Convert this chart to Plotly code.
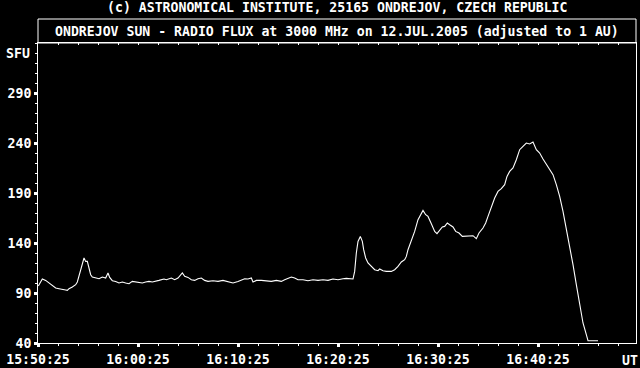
import plotly.graph_objects as go

DATE = "2005-07-12"

times = [
    "15:50:27", "15:50:51", "15:51:11", "15:51:31", "15:51:51", "15:52:11", "15:52:31", "15:52:51",
    "15:53:11", "15:53:21", "15:53:31", "15:53:51", "15:54:11", "15:54:21", "15:54:31", "15:54:41",
    "15:54:51", "15:55:01", "15:55:11", "15:55:21", "15:55:31", "15:55:41", "15:55:51", "15:56:11",
    "15:56:31", "15:56:51", "15:57:11", "15:57:25", "15:57:35", "15:57:51", "15:58:11", "15:58:31",
    "15:58:51", "15:59:11", "15:59:31", "15:59:51", "16:00:11", "16:00:31", "16:00:51", "16:01:11",
    "16:01:31", "16:01:51", "16:02:11", "16:02:31", "16:03:01", "16:03:15", "16:03:45", "16:04:05",
    "16:04:25", "16:04:51", "16:05:05", "16:05:25", "16:05:45", "16:06:05", "16:06:25", "16:06:45",
    "16:07:05", "16:07:25", "16:07:55", "16:08:25", "16:08:55", "16:09:25", "16:09:55", "16:10:25",
    "16:10:45", "16:11:05", "16:11:25", "16:11:45", "16:11:55", "16:12:15", "16:12:45", "16:13:15",
    "16:13:45", "16:14:15", "16:14:45", "16:15:05", "16:15:25", "16:15:45", "16:16:05", "16:16:25",
    "16:16:55", "16:17:25", "16:17:55", "16:18:25", "16:18:55", "16:19:25", "16:19:55", "16:20:25",
    "16:20:55", "16:21:15", "16:21:55", "16:22:05", "16:22:15", "16:22:25", "16:22:39", "16:22:51",
    "16:22:59", "16:23:11", "16:23:25", "16:23:45", "16:24:05", "16:24:25", "16:24:35", "16:24:55",
    "16:25:15", "16:25:45", "16:26:05", "16:26:25", "16:26:45", "16:27:05", "16:27:15", "16:27:25",
    "16:27:45", "16:28:05", "16:28:25", "16:28:39", "16:28:55", "16:29:11", "16:29:25", "16:29:45",
    "16:30:05", "16:30:19", "16:30:35", "16:30:51", "16:31:05", "16:31:21", "16:31:35", "16:31:55",
    "16:32:11", "16:32:31", "16:32:51", "16:33:15", "16:33:35", "16:33:55", "16:34:15", "16:34:31",
    "16:34:55", "16:35:11", "16:35:25", "16:35:45", "16:36:05", "16:36:25", "16:36:45", "16:37:05",
    "16:37:19", "16:37:35", "16:37:55", "16:38:15", "16:38:35", "16:38:55", "16:39:15", "16:39:35",
    "16:39:55", "16:40:15", "16:40:35", "16:40:55", "16:41:15", "16:41:35", "16:41:55", "16:42:15",
    "16:42:35", "16:42:55", "16:43:15", "16:43:35", "16:43:55", "16:44:15", "16:44:35", "16:44:55",
    "16:45:15", "16:45:25", "16:46:25",
]

flux_sfu = [
    97, 104, 102.6, 100, 97.3, 95, 94.3, 94,
    93, 92.6, 94.3, 96, 98.3, 101, 106.6, 113.3,
    118.3, 125, 121.6, 121.6, 115, 108.3, 106, 105,
    104.3, 106, 105, 110, 105.6, 102.3, 101.6, 100,
    101, 100, 99.3, 101.6, 101, 100, 100, 101,
    101.6, 101, 101.6, 102.6, 104, 103.3, 105, 103.3,
    105, 110, 106.6, 105.6, 103.3, 102.6, 104.3, 105,
    102.6, 101.6, 102.3, 101.6, 102.6, 101, 100, 101.6,
    103.3, 104.3, 104, 105, 101, 102.6, 102.6, 102.3,
    101.6, 102.6, 101.6, 103.3, 105, 106, 105, 103.3,
    103.3, 102.3, 103.3, 102.6, 103.3, 102.6, 104, 103.3,
    104.3, 104.6, 104, 111.6, 130, 141.6, 146.6, 141.6,
    133.3, 125, 120, 116.6, 113.3, 112.3, 114, 112.3,
    111.6, 111.6, 113.3, 116.6, 121, 123.3, 126.6, 133.3,
    141.6, 151.6, 163.3, 168.3, 172.6, 168.3, 166.6, 159.3,
    151.6, 149.3, 152.6, 156, 156.6, 160, 158.3, 156,
    151.6, 150, 146.6, 146.6, 147.3, 147.3, 144.3, 150,
    155, 160, 166.6, 176.6, 185, 191.6, 194.3, 198.3,
    206.6, 211.6, 215, 223.3, 233.3, 236.6, 240, 239,
    241, 233.3, 230, 224, 218.3, 213.3, 208.3, 198.3,
    186.6, 171.6, 155, 135, 118.3, 98.3, 78.3, 60,
    48.3, 42.3, 42.3,
]

y_tick_vals = [40, 90, 140, 190, 240, 290]
y_range = [40, 340]
x_start = "15:50:25"
x_end = "16:50:13"
x_tick_major_ms = 600000
x_tick_minor_ms = 120000

title_text = "(c) ASTRONOMICAL INSTITUTE, 25165 ONDREJOV, CZECH REPUBLIC"
subtitle_text = "ONDREJOV SUN - RADIO FLUX at 3000 MHz on 12.JUL.2005 (adjusted to 1 AU)"

x_vals = [DATE + " " + t for t in times]
FONT = dict(family="DejaVu Sans Mono", size=13.2, color="white", weight="bold")

fig = go.Figure()
fig.add_trace(go.Scatter(x=x_vals, y=flux_sfu, mode="lines",
                         line=dict(color="white", width=1.1), hoverinfo="skip"))
# invisible trace to realise the overlaid top axis
fig.add_trace(go.Scatter(x=x_vals, y=flux_sfu, mode="lines", xaxis="x2",
                         line=dict(color="rgba(0,0,0,0)", width=0), hoverinfo="skip"))

xr = [DATE + " " + x_start, DATE + " " + x_end]
fig.update_layout(
    width=640, height=368,
    margin=dict(l=38, r=4, t=43, b=25, autoexpand=False),
    paper_bgcolor="black", plot_bgcolor="black",
    showlegend=False,
    font=FONT,
    xaxis=dict(
        type="date", range=xr, showgrid=False, zeroline=False, automargin=False,
        showline=True, linecolor="white", linewidth=1, mirror=True,
        tick0=DATE + " " + x_start, dtick=x_tick_major_ms, tickformat="%H:%M:%S",
        ticks="outside", ticklen=3, tickwidth=3, tickcolor="white",
        minor=dict(dtick=x_tick_minor_ms, tick0=DATE + " " + x_start,
                   ticks="outside", ticklen=2, tickwidth=1, tickcolor="white", showgrid=False),
        tickfont=FONT, ticklabelstandoff=1,
    ),
    xaxis2=dict(
        type="date", range=xr, overlaying="x", side="top", anchor="y", automargin=False,
        showgrid=False, zeroline=False, showline=False, showticklabels=False,
        tick0=DATE + " " + x_start, dtick=x_tick_minor_ms,
        ticks="inside", ticklen=2, tickwidth=1, tickcolor="white",
    ),
    yaxis=dict(
        range=y_range, showgrid=False, zeroline=False, automargin=False,
        showline=True, linecolor="white", linewidth=1, mirror=True,
        tickvals=y_tick_vals, ticks="outside", ticklen=3, tickwidth=3, tickcolor="white",
        minor=dict(dtick=10, tick0=40, ticks="outside", ticklen=2, tickwidth=1,
                   tickcolor="white", showgrid=False),
        tickfont=FONT,
    ),
)

# title band above plot
fig.add_shape(type="rect", xref="paper", yref="paper", x0=0, x1=1, y0=1, y1=1.08,
              line=dict(color="white", width=1), fillcolor="black", layer="below")
fig.add_annotation(text=title_text, xref="paper", yref="paper", x=0.5, y=1.1167,
                   showarrow=False, font=FONT, xanchor="center", yanchor="middle")
fig.add_annotation(text=subtitle_text, xref="paper", yref="paper", x=0.5, y=1.039,
                   showarrow=False, font=FONT, xanchor="center", yanchor="middle")
fig.add_annotation(text="SFU", xref="paper", yref="y", x=0, y=330, xshift=-6,
                   showarrow=False, font=FONT, xanchor="right", yanchor="middle")
fig.add_annotation(text="UT", xref="paper", yref="paper", x=0.99, y=-0.0567,
                   showarrow=False, font=FONT, xanchor="center", yanchor="middle")

fig.write_html("out.html")
